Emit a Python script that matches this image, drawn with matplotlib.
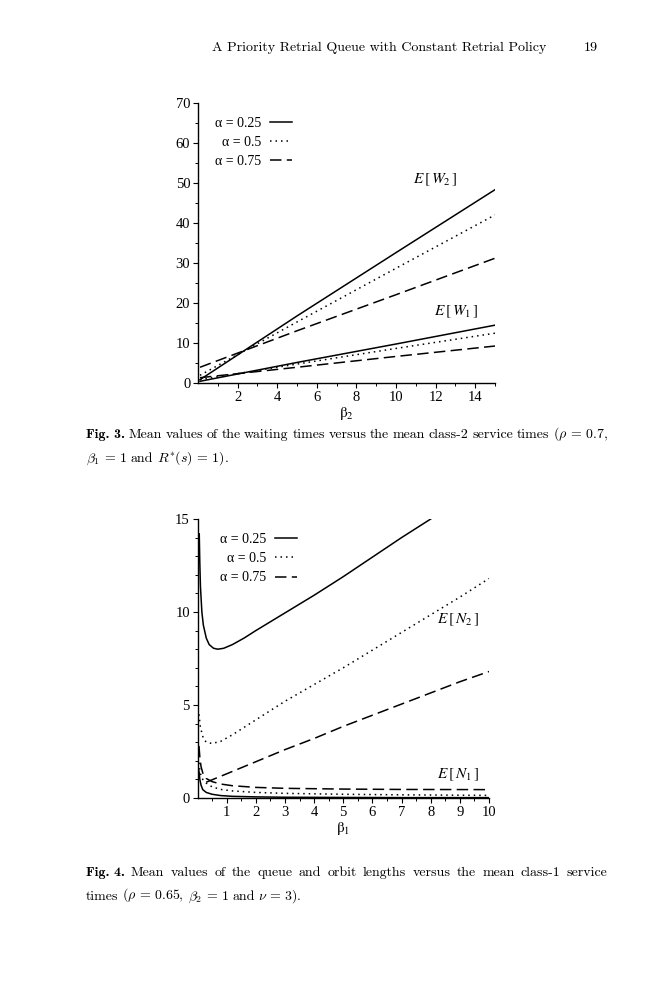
import matplotlib
matplotlib.use('Agg')
import matplotlib.pyplot as plt

# ---- Fig. 3 data: mean waiting times vs beta_2 ----
beta2 = [0.1, 5, 10, 15]
EW2_a025 = [0.9, 16.8, 32.6, 48.3]
EW2_a05 = [2.0, 15.3, 28.7, 42.0]
EW2_a075 = [4.0, 13.1, 22.1, 31.2]
EW1_a025 = [0.5, 5.2, 9.8, 14.5]
EW1_a05 = [0.9, 4.8, 8.7, 12.5]
EW1_a075 = [1.4, 4.0, 6.7, 9.3]

# ---- Fig. 4 data: mean queue / orbit lengths vs beta_1 ----
beta1_N2_a025 = [0.06, 0.08, 0.1, 0.15, 0.2, 0.3, 0.4, 0.55, 0.7, 0.9, 1.2, 1.6,
                 2, 3, 4, 5, 6, 7, 8]
EN2_a025 = [14.2, 12.6, 11.4, 10.0, 9.3, 8.6, 8.25, 8.05, 8.0, 8.05, 8.25, 8.6,
            9.0, 9.95, 10.9, 11.9, 12.95, 14.0, 15.0]
beta1_N2_a05 = [0.05, 0.1, 0.2, 0.3, 0.5, 0.8, 1.2, 2, 3, 4, 5, 6, 7, 8, 9, 10]
EN2_a05 = [4.5, 3.8, 3.2, 3.0, 2.93, 3.05, 3.4, 4.2, 5.2, 6.1, 7.0, 7.95, 8.9,
           9.85, 10.8, 11.8]
beta1_N2_a075 = [0.3, 1, 2, 3, 4, 5, 6, 7, 8, 9, 10]
EN2_a075 = [0.85, 1.3, 1.95, 2.6, 3.2, 3.85, 4.45, 5.05, 5.65, 6.25, 6.8]

beta1_N1 = [0.05, 0.08, 0.12, 0.18, 0.3, 0.5, 0.8, 1.2, 2, 3, 5, 7, 10]
EN1_a025 = [1.45, 1.0, 0.7, 0.45, 0.3, 0.2, 0.13, 0.09, 0.06, 0.04, 0.03, 0.02, 0.02]
EN1_a05 = [1.9, 1.5, 1.2, 1.0, 0.8, 0.6, 0.46, 0.38, 0.3, 0.25, 0.2, 0.17, 0.14]
EN1_a075 = [2.8, 2.2, 1.7, 1.35, 1.05, 0.88, 0.75, 0.66, 0.57, 0.52, 0.48, 0.46, 0.45]

legend_labels = ['α = 0.25', 'α = 0.5', 'α = 0.75']

SOLID = '-'
DOTTED = (0, (1.0, 2.6))
DASHED = (0, (7.5, 3.5))
LW = 1.1
TICKFONT = 'Liberation Serif'
CAP_SIZE = 10
LEFT_MARGIN = 86  # px


def style_axes(ax, xlim, ylim, xmaj, xmin, ymaj, ymin):
    ax.set_xlim(*xlim)
    ax.set_ylim(*ylim)
    ax.spines['top'].set_visible(False)
    ax.spines['right'].set_visible(False)
    for s in ('left', 'bottom'):
        ax.spines[s].set_linewidth(1.0)
    ax.set_xticks(xmaj)
    ax.set_xticks(xmin, minor=True)
    ax.set_yticks(ymaj)
    ax.set_yticks(ymin, minor=True)
    ax.tick_params(which='major', direction='out', length=3.5, width=0.8,
                   labelsize=10.5, pad=2)
    ax.tick_params(which='minor', direction='out', length=2, width=0.7)
    for lab in ax.get_xticklabels() + ax.get_yticklabels():
        lab.set_fontfamily(TICKFONT)
    ax.patch.set_visible(False)


def add_legend(ax, handles, anchor):
    ax.legend(handles, legend_labels, loc='upper left', bbox_to_anchor=anchor,
              frameon=False, markerfirst=False, handlelength=1.6,
              handletextpad=0.6, labelspacing=0.45, borderpad=0,
              borderaxespad=0, prop={'family': TICKFONT, 'size': 10})


fig = plt.figure(figsize=(6.59, 10), dpi=100)

# header
fig.text(212 / 659, 1 - 51 / 1000, 'A Priority Retrial Queue with Constant Retrial Policy',
         family='cmr10', fontsize=10.1, va='baseline', ha='left')
fig.text(598 / 659, 1 - 51 / 1000, '19', family='cmr10', fontsize=10.1,
         va='baseline', ha='right')

# ---- Fig. 3 ----
ax1 = fig.add_axes([198 / 659, 1 - 383.3 / 1000, 297 / 659, 280.6 / 1000])
h1, = ax1.plot(beta2, EW2_a025, color='black', lw=LW, linestyle=SOLID)
h2, = ax1.plot(beta2, EW2_a05, color='black', lw=LW, linestyle=DOTTED)
h3, = ax1.plot(beta2, EW2_a075, color='black', lw=LW, linestyle=DASHED)
ax1.plot(beta2, EW1_a025, color='black', lw=LW, linestyle=SOLID)
ax1.plot(beta2, EW1_a05, color='black', lw=LW, linestyle=DOTTED)
ax1.plot(beta2, EW1_a075, color='black', lw=LW, linestyle=DASHED)
style_axes(ax1, (0, 15), (0, 70), list(range(2, 15, 2)), list(range(1, 16, 2)),
           list(range(0, 71, 10)), list(range(5, 70, 10)))
ax1.set_xlabel(r'$\mathrm{\beta}_2$', math_fontfamily='stix', fontsize=11, labelpad=1)
ax1.text(11.97, 50.7, r'$E\,\left[\,W_2\,\right]$', math_fontfamily='stix', fontsize=11,
         ha='center', va='center')
ax1.text(13.03, 17.9, r'$E\,\left[\,W_1\,\right]$', math_fontfamily='stix', fontsize=11,
         ha='center', va='center')
add_legend(ax1, [h1, h2, h3], (0.057, 0.95))

# ---- Fig. 4 ----
ax2 = fig.add_axes([197.5 / 659, 1 - 798 / 1000, 291.5 / 659, 279 / 1000])
g1, = ax2.plot(beta1_N2_a025, EN2_a025, color='black', lw=LW, linestyle=SOLID)
g2, = ax2.plot(beta1_N2_a05, EN2_a05, color='black', lw=LW, linestyle=DOTTED)
g3, = ax2.plot(beta1_N2_a075, EN2_a075, color='black', lw=LW, linestyle=DASHED)
ax2.plot(beta1_N1, EN1_a025, color='black', lw=LW, linestyle=SOLID)
ax2.plot(beta1_N1, EN1_a05, color='black', lw=LW, linestyle=DOTTED)
ax2.plot(beta1_N1, EN1_a075, color='black', lw=LW, linestyle=DASHED)
style_axes(ax2, (0, 10), (0, 15), list(range(1, 11)), [i / 2 for i in range(1, 20, 2)],
           [0, 5, 10, 15], [i for i in range(1, 15) if i % 5])
ax2.set_xlabel(r'$\mathrm{\beta}_1$', math_fontfamily='stix', fontsize=11, labelpad=1)
ax2.text(8.92, 9.6, r'$E\,\left[\,N_2\,\right]$', math_fontfamily='stix', fontsize=11,
         ha='center', va='center')
ax2.text(8.92, 1.25, r'$E\,\left[\,N_1\,\right]$', math_fontfamily='stix', fontsize=11,
         ha='center', va='center')
add_legend(ax2, [g1, g2, g3], (0.077, 0.95))

# ---- captions ----
renderer = fig.canvas.get_renderer()
W = fig.bbox.width


def put_words(y, words, right=None):
    # words: list of (text, family); natural spacing unless a right edge is given
    texts = [fig.text(0, y, w, family=f, fontsize=CAP_SIZE, math_fontfamily='cm',
                      va='baseline', ha='left') for w, f in words]
    widths = [t.get_window_extent(renderer).width for t in texts]
    gap = 0.26 * CAP_SIZE * 100 / 72
    if right is not None and len(texts) > 1:
        gap = (right - LEFT_MARGIN - sum(widths)) / (len(texts) - 1)
    x = LEFT_MARGIN
    for t, w in zip(texts, widths):
        t.set_x(x / W)
        x += w + gap
    return x - gap


def words_of(label, line):
    out = [(label, 'cmb10')] if label else []
    return out + [(w, 'cmr10') for w in line.split(' ')]


cap3_1 = r'Mean values of the waiting times versus the mean class-2 service times ($\rho\,=\,0.7$,'
cap3_2 = r'$\beta_1\,=\,1$ and $R^{*}(s)\,=\,1$).'
cap4_1 = r'Mean values of the queue and orbit lengths versus the mean class-1 service'
cap4_2 = r'times ($\rho\,=\,0.65$, $\beta_2\,=\,1$ and $\nu\,=\,3$).'

right_edge = put_words(1 - 438 / 1000, words_of('Fig. 3.', cap3_1))
put_words(1 - 461.5 / 1000, words_of(None, cap3_2))
put_words(1 - 876 / 1000, words_of('Fig. 4.', cap4_1), right=right_edge)
put_words(1 - 899.5 / 1000, words_of(None, cap4_2))

fig.savefig('out.png', dpi=100)
